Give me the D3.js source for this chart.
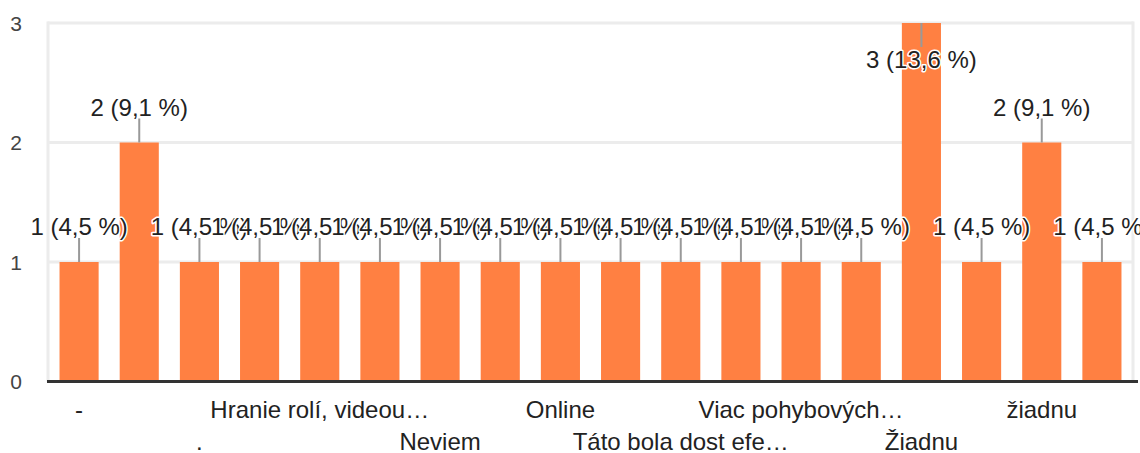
<!DOCTYPE html>
<html>
<head>
<meta charset="utf-8">
<script src="https://cdn.jsdelivr.net/npm/d3@7"></script>
<style>
  html, body { margin: 0; padding: 0; background: #fff; }
  svg { display: block; }
  text { font-family: "Liberation Sans", Arial, sans-serif; }
</style>
</head>
<body>
<svg id="chart" width="1140" height="453"></svg>
<script>
// ---- data ----
const categories = ["-", "", ".", "", "Hranie rolí, videou…", "", "Neviem", "", "Online", "",
                    "Táto bola dost efe…", "", "Viac pohybových…", "", "Žiadnu", "", "žiadnu", ""];
const values = [1, 2, 1, 1, 1, 1, 1, 1, 1, 1, 1, 1, 1, 1, 3, 1, 2, 1];
const yTicks = [0, 1, 2, 3];
const total = d3.sum(values);

// ---- layout ----
const plot = { left: 49, right: 1132, top: 23, bottom: 381.5 };
const svg = d3.select("#chart");

const x = d3.scaleBand()
  .domain(d3.range(values.length))
  .range([plot.left, plot.right])
  .paddingInner(0.35)
  .paddingOuter(0.175);
const y = d3.scaleLinear().domain([0, 3]).range([plot.bottom, plot.top]);

// gridlines
svg.append("g").selectAll("line").data(yTicks.filter(d => d > 0)).join("line")
  .attr("x1", plot.left - 1.5).attr("x2", plot.right + 1.5)
  .attr("y1", d => y(d)).attr("y2", d => y(d))
  .attr("stroke", "#ececec").attr("stroke-width", 3);
// left & right frame
svg.append("line").attr("x1", plot.left - 1).attr("x2", plot.left - 1)
  .attr("y1", y(3) - 1.5).attr("y2", plot.bottom)
  .attr("stroke", "#ececec").attr("stroke-width", 3);
svg.append("line").attr("x1", plot.right + 1).attr("x2", plot.right + 1)
  .attr("y1", y(3) - 1.5).attr("y2", plot.bottom)
  .attr("stroke", "#ececec").attr("stroke-width", 3);

// y tick labels
svg.append("g").selectAll("text").data(yTicks).join("text")
  .attr("x", 22).attr("y", d => y(d)).attr("dy", "0.36em")
  .attr("text-anchor", "end").attr("fill", "#444").attr("font-size", 21)
  .text(d => d);

// bars
svg.append("g").selectAll("rect").data(values).join("rect")
  .attr("x", (d, i) => x(i)).attr("width", x.bandwidth())
  .attr("y", d => y(d)).attr("height", d => y(0) - y(d))
  .attr("fill", "#ff8042");

// baseline
svg.append("line").attr("x1", plot.left - 2).attr("x2", 1138)
  .attr("y1", plot.bottom).attr("y2", plot.bottom)
  .attr("stroke", "#333").attr("stroke-width", 3);

// x labels (every other category, alternating rows)
svg.append("g").selectAll("text")
  .data(categories.map((c, i) => ({ c, i })).filter(d => d.i % 2 === 0))
  .join("text")
  .attr("x", d => x(d.i) + x.bandwidth() / 2)
  .attr("y", d => ((d.i / 2) % 2 === 0) ? 418 : 450)
  .attr("text-anchor", "middle").attr("fill", "#222").attr("font-size", 24)
  .text(d => d.c);

// annotations
const fmt = v => `${v} (${d3.format(".1f")(v / total * 100).replace(".", ",")} %)`;
const ann = svg.append("g");
values.forEach((v, i) => {
  const cx = x(i) + x.bandwidth() / 2;
  const top = y(v);
  const inside = top - 48 < 0;
  const lineEnd = inside ? top + 24 : top - 24;
  ann.append("line").attr("x1", cx).attr("x2", cx)
    .attr("y1", top).attr("y2", lineEnd)
    .attr("stroke", "#999").attr("stroke-width", 2);
  ann.append("text")
    .attr("x", cx).attr("y", inside ? lineEnd + 21 : lineEnd - 3)
    .attr("text-anchor", "middle").attr("font-size", 24)
    .attr("fill", "#222").attr("stroke", "#fff").attr("stroke-width", 3)
    .attr("paint-order", "stroke").attr("stroke-linejoin", "round")
    .text(fmt(v));
});
</script>
</body>
</html>
